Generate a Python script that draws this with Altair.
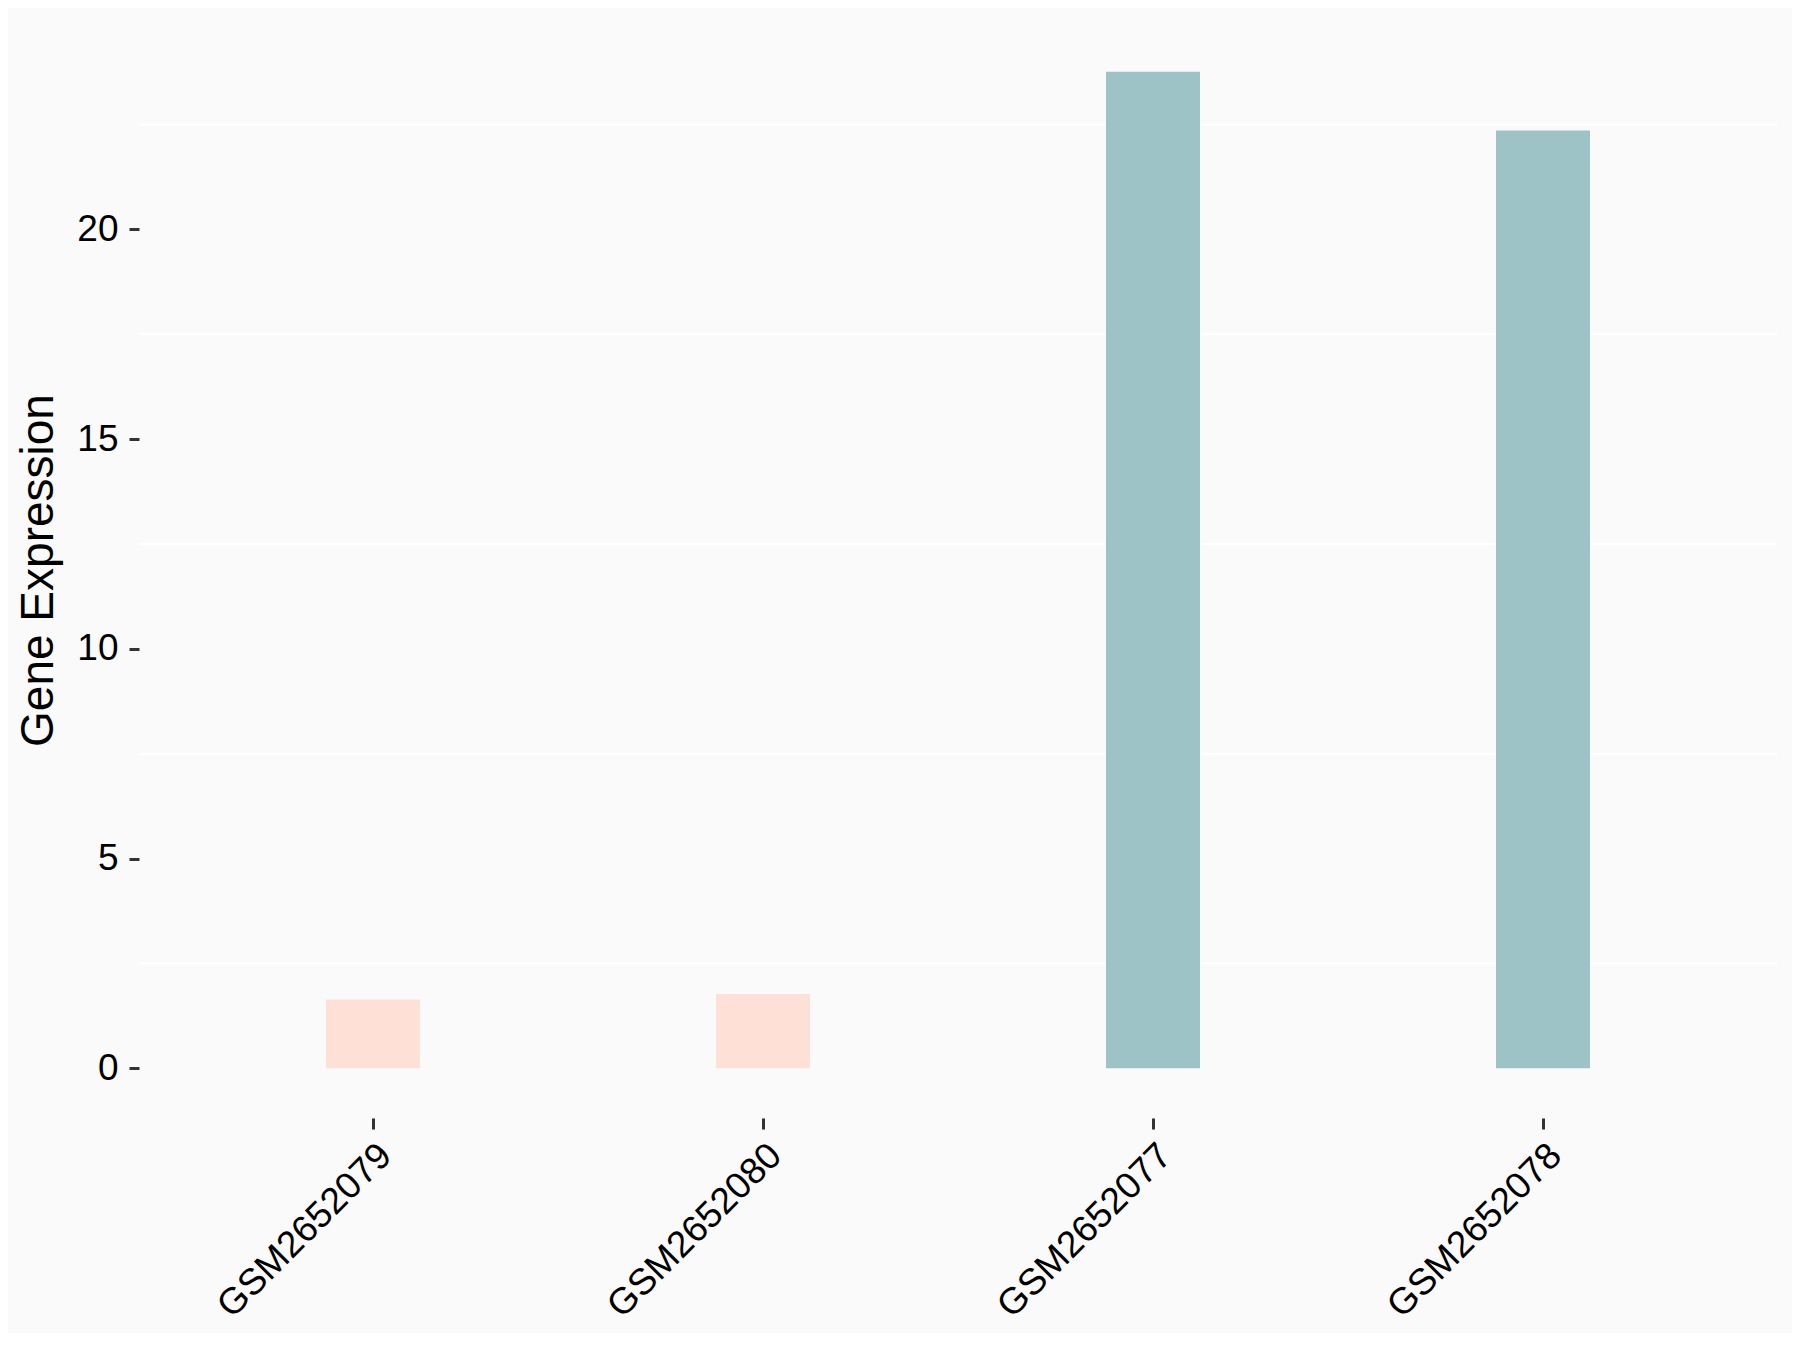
import altair as alt
import pandas as pd

samples = ["GSM2652079", "GSM2652080", "GSM2652077", "GSM2652078"]
values = [1.64, 1.77, 23.76, 22.36]
groups = ["low", "low", "high", "high"]
group_names = ["low", "high"]
group_colors = ["#FEE0D6", "#9DC3C7"]
minor_grid = [2.5, 7.5, 12.5, 17.5, 22.5]
y_ticks = [0, 5, 10, 15, 20]

df = pd.DataFrame({"sample": samples, "value": values, "group": groups})
grid_df = pd.DataFrame({"g": minor_grid})

FONT = "Liberation Sans"
ymin, ymax = -1.188, 24.948

yscale = alt.Scale(domain=[ymin, ymax], nice=False, zero=False)

y_axis = alt.Axis(
    title="Gene Expression",
    values=y_ticks,
    domain=False,
    grid=False,
    tickSize=10,
    tickWidth=3,
    tickColor="#333333",
    labelPadding=11,
    labelFont=FONT,
    labelFontSize=37,
    labelColor="black",
    titleFont=FONT,
    titleFontSize=46,
    titleFontWeight="normal",
    titleColor="black",
    titleAngle=270,
    titleAlign="center",
    titleBaseline="alphabetic",
    titleX=-87,
    titleY=548,
)

bars = alt.Chart(df).mark_bar(size=94).encode(
    x=alt.X(
        "sample:N",
        sort=samples,
        scale=alt.Scale(type="band", paddingInner=0, paddingOuter=0.1),
        axis=alt.Axis(
            title=None,
            domain=False,
            grid=False,
            ticks=True,
            tickSize=11,
            tickWidth=3,
            tickColor="#333333",
            labelAngle=315,
            labelAlign="right",
            labelBaseline="top",
            labelPadding=8,
            labelLimit=0,
            labelFont=FONT,
            labelFontSize=37,
            labelColor="black",
        ),
    ),
    y=alt.Y("value:Q", scale=yscale, axis=y_axis),
    color=alt.Color(
        "group:N",
        scale=alt.Scale(domain=group_names, range=group_colors),
        legend=None,
    ),
)

grid = alt.Chart(grid_df).mark_rule(color="white", strokeWidth=2).encode(
    y=alt.Y("g:Q", scale=yscale, axis=y_axis)
)

chart = (
    alt.layer(grid, bars)
    .properties(
        width=1638,
        height=1096,
        background="#FAFAFA",
        padding={"left": 131, "top": 14, "right": 15, "bottom": 215},
        autosize=alt.AutoSizeParams(type="none"),
    )
    .configure_view(stroke=None, fill="#FAFAFA")
)

chart.save("out.html", embed_options={"renderer": "svg", "actions": False})
